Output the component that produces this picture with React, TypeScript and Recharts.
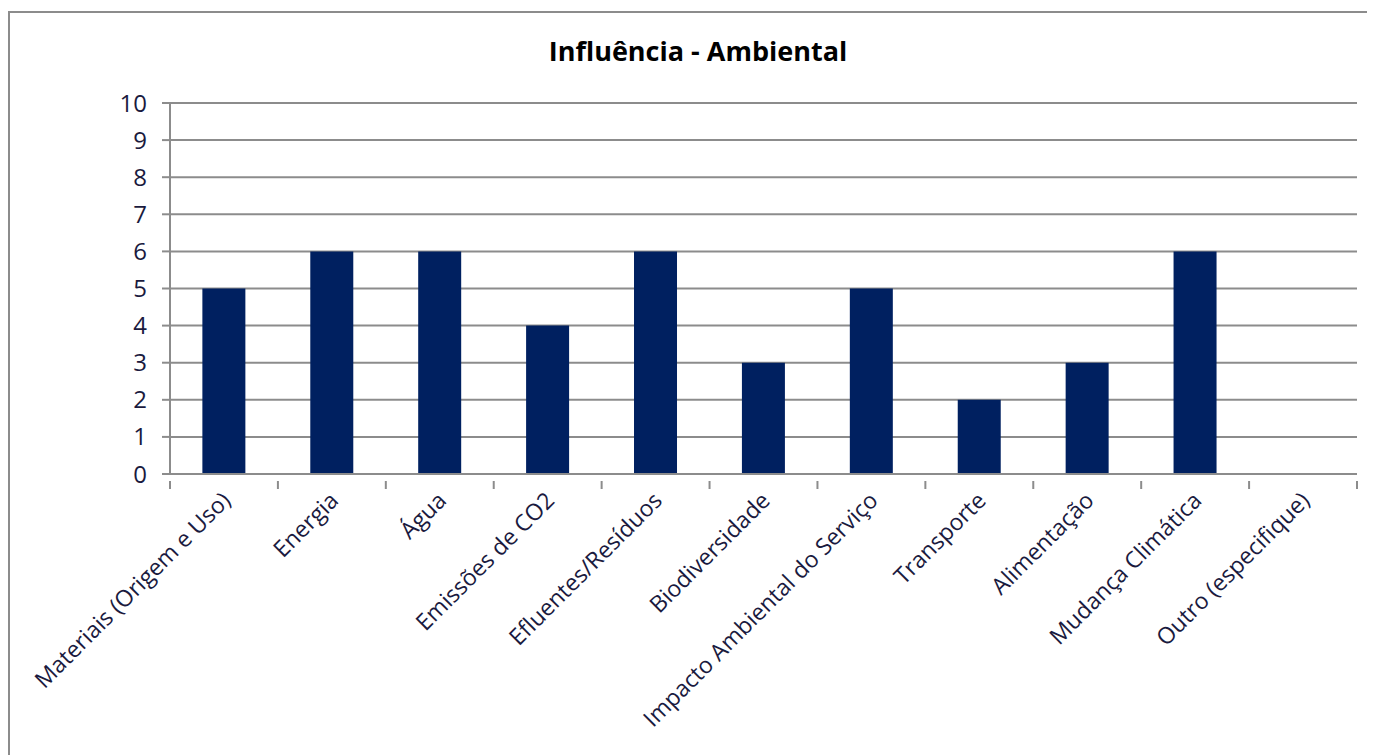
import React from "react";
import { BarChart, Bar, XAxis, YAxis, CartesianGrid } from "recharts";

// Categories and scores
const categories = [
  "Materiais (Origem e Uso)",
  "Energia",
  "Água",
  "Emissões de CO2",
  "Efluentes/Resíduos",
  "Biodiversidade",
  "Impacto Ambiental do Serviço",
  "Transporte",
  "Alimentação",
  "Mudança Climática",
  "Outro (especifique)",
];
const scores = [5, 6, 6, 4, 6, 3, 5, 2, 3, 6, 0];
const yTicks = [0, 1, 2, 3, 4, 5, 6, 7, 8, 9, 10];

const data = categories.map((name, i) => ({ name, value: scores[i] }));

const GRAY = "#8c8c8c";
const TEXT = "#1a1a3e";
const FONT = "'Open Sans', sans-serif";

// x tick: label rotated -45deg plus a tick mark on the category boundary
const CategoryTick = (props: any) => {
  const { x, y, payload, index, width, visibleTicksCount } = props;
  const band = width / visibleTicksCount;
  const isLast = index === visibleTicksCount - 1;
  return (
    <g>
      <line x1={x - band / 2} x2={x - band / 2} y1={y - 1} y2={y + 7} stroke={GRAY} strokeWidth={2} />
      {isLast && (
        <line x1={x + band / 2} x2={x + band / 2} y1={y - 1} y2={y + 7} stroke={GRAY} strokeWidth={2} />
      )}
      <text
        transform={`translate(${x + 8},${y + 20}) rotate(-45)`}
        textAnchor="end"
        fontSize={23}
        fontFamily={FONT}
        fill={TEXT}
      >
        {payload.value}
      </text>
    </g>
  );
};

export default function App() {
  return (
    <div style={{ width: 1367, height: 747, overflow: "hidden" }}>
      <div
        style={{
          position: "relative",
          marginTop: 3,
          width: 1420,
          height: 800,
          borderLeft: `2px solid ${GRAY}`,
          borderTop: `2px solid ${GRAY}`,
          background: "#fff",
        }}
      >
        <div
          style={{
            position: "absolute",
            left: 0,
            top: 21,
            width: 1376,
            textAlign: "center",
            fontFamily: FONT,
            fontWeight: 700,
            fontSize: 27,
            lineHeight: "34px",
            color: "#000",
          }}
        >
          Influência - Ambiental
        </div>
        <BarChart
          width={1357}
          height={740}
          data={data}
          margin={{ top: 90, right: 10, left: 0, bottom: 0 }}
          barCategoryGap="30%"
        >
          <CartesianGrid vertical={false} stroke={GRAY} strokeWidth={2} />
          <XAxis
            dataKey="name"
            interval={0}
            height={279}
            tickLine={false}
            axisLine={{ stroke: GRAY, strokeWidth: 2 }}
            tick={<CategoryTick />}
          />
          <YAxis
            width={160}
            domain={[0, 10]}
            ticks={yTicks}
            interval={0}
            tickSize={8}
            tickMargin={15}
            axisLine={{ stroke: GRAY, strokeWidth: 2 }}
            tickLine={{ stroke: GRAY, strokeWidth: 2 }}
            tick={{ fontSize: 24, fontFamily: FONT, fill: TEXT }}
          />
          <Bar dataKey="value" fill="#002060" isAnimationActive={false} />
        </BarChart>
      </div>
    </div>
  );
}
